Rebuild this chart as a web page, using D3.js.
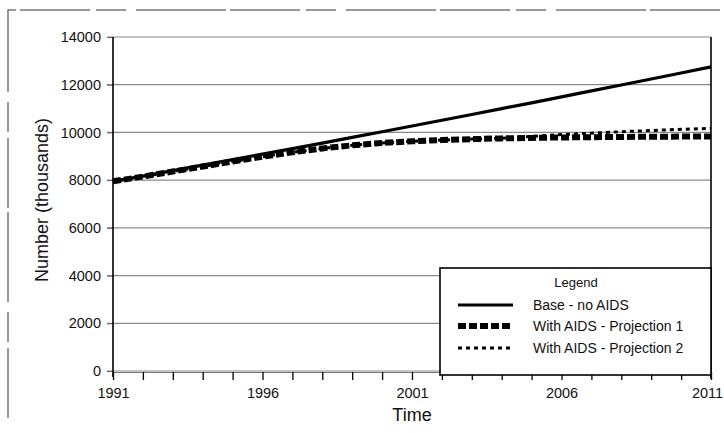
<!DOCTYPE html>
<html>
<head>
<meta charset="utf-8">
<script src="https://cdn.jsdelivr.net/npm/d3@7"></script>
<style>
  body { margin: 0; background: #fff; }
  text { font-family: "Liberation Sans", Arial, sans-serif; fill: #111; }
</style>
</head>
<body>
<div id="chart"></div>
<script>
var svgWidth = 724;
var svgHeight = 433;

var margin = { top: 37, right: 13, bottom: 62, left: 113 };
var width = svgWidth - margin.left - margin.right;
var height = svgHeight - margin.top - margin.bottom;

// data (thousands)
var years = [1991, 1992, 1993, 1994, 1995, 1996, 1997, 1998, 1999, 2000, 2001,
  2002, 2003, 2004, 2005, 2006, 2007, 2008, 2009, 2010, 2011];
var baseNoAids = [7950, 8170, 8400, 8630, 8860, 9090, 9320, 9550, 9790, 10030, 10270,
  10510, 10750, 11000, 11240, 11490, 11740, 11990, 12240, 12490, 12750];
var projection1 = [7950, 8150, 8360, 8570, 8780, 8980, 9170, 9330, 9460, 9560, 9630,
  9680, 9720, 9750, 9770, 9790, 9800, 9810, 9820, 9825, 9830];
var projection2 = [7950, 8150, 8360, 8570, 8780, 8980, 9170, 9330, 9460, 9560, 9630,
  9680, 9720, 9760, 9830, 9910, 9970, 10030, 10080, 10130, 10170];
var yTicks = [0, 2000, 4000, 6000, 8000, 10000, 12000, 14000];
var xLabelYears = [1991, 1996, 2001, 2006, 2011];

var seriesNames = ["Base - no AIDS", "With AIDS - Projection 1", "With AIDS - Projection 2"];

var svg = d3.select("#chart")
  .append("svg")
  .attr("width", svgWidth)
  .attr("height", svgHeight);

// outer frame of the scanned figure (broken grey lines)
svg.append("path")
  .attr("d", "M8,418 L8,10 L724,10")
  .attr("fill", "none")
  .attr("stroke", "#777")
  .attr("stroke-width", 1.5)
  .attr("stroke-dasharray", "70,6,30,10,90,4");

var chartGroup = svg.append("g")
  .attr("transform", `translate(${margin.left}, ${margin.top})`);

var xScale = d3.scaleLinear().domain([1991, 2011]).range([0, width]);
var yScale = d3.scaleLinear().domain([0, 14000]).range([height, 0]);

// horizontal grid lines
chartGroup.append("g")
  .selectAll("line")
  .data(yTicks)
  .enter()
  .append("line")
  .attr("x1", -6)
  .attr("x2", width)
  .attr("y1", d => yScale(d))
  .attr("y2", d => yScale(d))
  .attr("stroke", "#8a8a8a")
  .attr("stroke-width", 1.2);

// y axis
var leftAxis = d3.axisLeft(yScale)
  .tickValues(yTicks)
  .tickFormat(d3.format("d"))
  .tickSize(6)
  .tickPadding(6);

var yAxis = chartGroup.append("g").call(leftAxis);
yAxis.select(".domain").remove();
yAxis.selectAll(".tick line").attr("stroke", "#666");
yAxis.selectAll("text").style("font-size", "14.5px");

chartGroup.append("line")
  .attr("x1", 0).attr("x2", 0)
  .attr("y1", 0).attr("y2", height + 6)
  .attr("stroke", "#000")
  .attr("stroke-width", 1.6);

// right border
chartGroup.append("line")
  .attr("x1", width).attr("x2", width)
  .attr("y1", 0).attr("y2", height + 8)
  .attr("stroke", "#000")
  .attr("stroke-width", 1.6);

// x axis
var bottomAxis = d3.axisBottom(xScale)
  .tickValues(years)
  .tickSize(8)
  .tickPadding(8)
  .tickFormat(d => xLabelYears.indexOf(d) >= 0 ? d : "");

var xAxis = chartGroup.append("g")
  .attr("transform", `translate(0, ${height + 1})`)
  .call(bottomAxis);
xAxis.select(".domain").attr("stroke", "#777");
xAxis.selectAll(".tick line").attr("stroke", "#000").attr("stroke-width", 1.3);
xAxis.selectAll("text").style("font-size", "14.5px");
// keep the last year label inside the page
xAxis.selectAll(".tick text")
  .filter(d => d === 2011)
  .attr("dx", "-4px");

// lines
var line = d3.line()
  .x((d, i) => xScale(years[i]))
  .y(d => yScale(d));

var styles = [
  { stroke: 3.2, dash: null },
  { stroke: 6, dash: "8,3" },
  { stroke: 3, dash: "4,4" }
];
var seriesData = [baseNoAids, projection1, projection2];

// draw projection 2 first, then projection 1, base on top
[2, 1, 0].forEach(function(k) {
  chartGroup.append("path")
    .datum(seriesData[k])
    .attr("d", line)
    .attr("fill", "none")
    .attr("stroke", "#000")
    .attr("stroke-width", styles[k].stroke)
    .attr("stroke-dasharray", styles[k].dash);
});

// legend
var legend = chartGroup.append("g")
  .attr("transform", `translate(${440 - margin.left}, ${268 - margin.top})`);

legend.append("rect")
  .attr("width", 711 - 440)
  .attr("height", height + 4 - (268 - margin.top))
  .attr("fill", "#fff")
  .attr("stroke", "#000")
  .attr("stroke-width", 1.6);

legend.append("text")
  .attr("x", 136)
  .attr("y", 19)
  .attr("text-anchor", "middle")
  .style("font-size", "13px")
  .text("Legend");

var rowY = [42, 63, 85];
seriesNames.forEach(function(name, k) {
  legend.append("line")
    .attr("x1", 18).attr("x2", 73)
    .attr("y1", rowY[k] - 5).attr("y2", rowY[k] - 5)
    .attr("stroke", "#000")
    .attr("stroke-width", styles[k].stroke)
    .attr("stroke-dasharray", styles[k].dash);
  legend.append("text")
    .attr("x", 93)
    .attr("y", rowY[k])
    .style("font-size", "14px")
    .text(name);
});

// axis titles
svg.append("text")
  .attr("transform", "translate(48, 200) rotate(-90)")
  .attr("text-anchor", "middle")
  .style("font-size", "18px")
  .text("Number (thousands)");

svg.append("text")
  .attr("x", 412)
  .attr("y", 421)
  .attr("text-anchor", "middle")
  .style("font-size", "18px")
  .text("Time");
</script>
</body>
</html>
